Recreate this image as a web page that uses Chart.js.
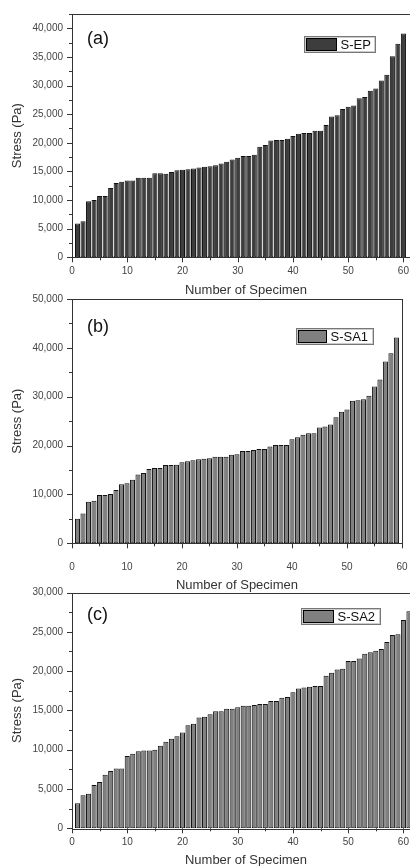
<!DOCTYPE html>
<html>
<head>
<meta charset="utf-8">
<script src="https://cdn.jsdelivr.net/npm/chart.js@4.4.0/dist/chart.umd.min.js"></script>
<style>
  html, body { margin: 0; padding: 0; background: #fff; overflow: hidden; }
  body { width: 410px; height: 866px; position: relative; }
  canvas { position: absolute; left: 0; display: block; }
</style>
</head>
<body>
<canvas id="chartA" width="420" height="310" style="top:0px"></canvas>
<canvas id="chartB" width="420" height="320" style="top:285px"></canvas>
<canvas id="chartC" width="420" height="305" style="top:575px"></canvas>
<script>
// specimen numbers (x categories)
const specimenNo = [1, 2, 3, 4, 5, 6, 7, 8, 9, 10, 11, 12, 13, 14, 15, 16, 17, 18, 19, 20,
  21, 22, 23, 24, 25, 26, 27, 28, 29, 30, 31, 32, 33, 34, 35, 36, 37, 38, 39, 40,
  41, 42, 43, 44, 45, 46, 47, 48, 49, 50, 51, 52, 53, 54, 55, 56, 57, 58, 59, 60, 61];

// stress values (Pa)
const stressEP = [5900, 6300, 9800, 10000, 10700, 10700, 12100, 13000, 13200, 13400,
  13400, 13900, 13900, 13900, 14700, 14700, 14600, 14900, 15200, 15300,
  15400, 15500, 15700, 15800, 15900, 16100, 16400, 16700, 17100, 17400,
  17700, 17700, 17900, 19300, 19600, 20400, 20500, 20500, 20700, 21200,
  21600, 21700, 21700, 22100, 22100, 23100, 24600, 24800, 25900, 26300,
  26500, 27800, 28000, 29100, 29500, 30900, 31900, 35100, 37300, 39100];
const stressSA1 = [5000, 6100, 8500, 8700, 9900, 9900, 10100, 10900, 12100, 12300,
  13000, 14100, 14400, 15200, 15400, 15400, 16000, 16000, 16100, 16600,
  16800, 17000, 17200, 17300, 17400, 17700, 17700, 17700, 18100, 18200,
  18900, 18900, 19100, 19300, 19300, 19800, 20100, 20100, 20100, 21300,
  21700, 22200, 22500, 22500, 23700, 23900, 24300, 25800, 26900, 27400,
  29200, 29300, 29500, 30200, 32100, 33500, 37200, 38900, 42100];
const stressSA2 = [3200, 4200, 4400, 5500, 5900, 6800, 7300, 7600, 7600, 9200,
  9500, 9800, 9900, 9900, 10000, 10500, 11000, 11400, 11700, 12200,
  13100, 13300, 14100, 14200, 14500, 14900, 14900, 15200, 15200, 15400,
  15600, 15600, 15700, 15800, 15800, 16200, 16200, 16600, 16700, 17300,
  17800, 17900, 18000, 18100, 18100, 19400, 19800, 20200, 20300, 21300,
  21300, 21600, 22200, 22400, 22600, 22800, 23700, 24600, 24700, 26500, 27600];

// tick labels
const xTicks = [0, 10, 20, 30, 40, 50, 60];
const yTicksEP = [0, 5000, 10000, 15000, 20000, 25000, 30000, 35000, 40000];
const yTicksSA1 = [0, 10000, 20000, 30000, 40000, 50000];
const yTicksSA2 = [0, 5000, 10000, 15000, 20000, 25000, 30000];

Chart.defaults.font.family = '"Liberation Sans", Arial, sans-serif';

// frame, outward ticks (long major / short minor), panel letter, legend box
const panelDecor = {
  id: 'panelDecor',
  afterDraw(chart, args, opts) {
    const { ctx, chartArea: a, scales: { x, y } } = chart;
    ctx.save();
    ctx.strokeStyle = '#333';
    ctx.lineWidth = 1;
    ctx.strokeRect(Math.round(a.left) + 0.5, Math.round(a.top) + 0.5,
      Math.round(a.right - a.left), Math.round(a.bottom - a.top));
    ctx.beginPath();
    y.ticks.forEach(t => {
      const py = Math.round(y.getPixelForValue(t.value)) + 0.5;
      const len = t.label !== '' ? 5 : 3;
      ctx.moveTo(a.left, py);
      ctx.lineTo(a.left - len, py);
    });
    x.ticks.forEach(t => {
      const px = Math.round(x.getPixelForValue(t.value)) + 0.5;
      const len = t.label !== '' ? 5 : 3;
      ctx.moveTo(px, a.bottom);
      ctx.lineTo(px, a.bottom + len);
    });
    ctx.stroke();

    // panel letter
    ctx.fillStyle = '#111';
    ctx.font = '18px "Liberation Sans", Arial, sans-serif';
    ctx.textBaseline = 'alphabetic';
    ctx.textAlign = 'left';
    ctx.fillText(opts.letter, a.left + 15, a.top + opts.letterDy);

    // legend
    const ds = chart.data.datasets[0];
    ctx.font = '13px "Liberation Sans", Arial, sans-serif';
    const tw = ctx.measureText(ds.label).width;
    const bx = Math.round(a.left + opts.legendDx) + 0.5;
    const by = Math.round(a.top + opts.legendDy) + 0.5;
    const bw = Math.round(3 + opts.swatchW + 3 + tw + 5);
    const bh = 16;
    ctx.fillStyle = '#fff';
    ctx.fillRect(bx, by, bw, bh);
    ctx.strokeStyle = '#777';
    ctx.strokeRect(bx, by, bw, bh);
    ctx.strokeStyle = '#ccc';
    ctx.strokeRect(bx + 1, by + 1, bw - 2, bh - 2);
    ctx.fillStyle = ds.backgroundColor;
    ctx.fillRect(bx + 2, by + 2, opts.swatchW, bh - 4);
    ctx.strokeStyle = '#000';
    ctx.strokeRect(bx + 2, by + 2, opts.swatchW, bh - 4);
    ctx.fillStyle = '#111';
    ctx.textBaseline = 'middle';
    ctx.fillText(ds.label, bx + 3 + opts.swatchW + 3, by + bh / 2 + 0.5);
    ctx.restore();
  }
};

function makePanel(id, label, values, color, yMax, yStep, yMajors, xMax, box) {
  const canvas = document.getElementById(id);
  return new Chart(canvas, {
    type: 'bar',
    data: {
      datasets: [{
        label: label,
        data: values.map((v, i) => ({ x: specimenNo[i], y: v })),
        backgroundColor: color,
        borderColor: '#111',
        borderWidth: 1,
        borderSkipped: false,
        categoryPercentage: 1,
        barPercentage: 0.92
      }]
    },
    options: {
      responsive: false,
      animation: false,
      layout: { padding: { top: box.areaTop, right: box.padRight, left: 0, bottom: 0 } },
      plugins: {
        legend: { display: false },
        tooltip: { enabled: false },
        panelDecor: box
      },
      scales: {
        x: {
          type: 'linear',
          min: 0,
          max: xMax,
          offset: false,
          grid: { display: false, offset: false, drawTicks: true, tickLength: 5 },
          border: { display: false },
          ticks: {
            stepSize: 5,
            includeBounds: false,
            maxRotation: 0,
            autoSkip: false,
            padding: box.xPad,
            color: '#444',
            font: { size: 10 },
            callback: v => (xTicks.includes(v) ? String(v) : '')
          },
          afterBuildTicks: s => { s.ticks = s.ticks.filter(t => t.value % 5 === 0); },
          afterFit: s => { s.height = box.xAxisH; },
          title: {
            display: true,
            text: 'Number of Specimen',
            color: '#333',
            font: { size: 13 },
            padding: { top: 0, bottom: 12.2 }
          }
        },
        y: {
          min: 0,
          max: yMax,
          grid: { display: false, drawTicks: true, tickLength: 5 },
          border: { display: false },
          ticks: {
            stepSize: yStep,
            includeBounds: false,
            autoSkip: false,
            padding: 4,
            color: '#444',
            font: { size: 10 },
            callback: v => (yMajors.includes(v) ? v.toLocaleString('en-US') : '')
          },
          afterBuildTicks: s => { s.ticks = s.ticks.filter(t => t.value % yStep === 0); },
          afterFit: s => { s.width = 72; },
          title: {
            display: true,
            text: 'Stress (Pa)',
            color: '#333',
            font: { size: 13 },
            padding: { top: 9.5, bottom: 0 }
          }
        }
      }
    },
    plugins: [panelDecor]
  });
}

makePanel('chartA', 'S-EP', stressEP, '#3d3d3d', 42500, 2500, yTicksEP, 63,
  { areaTop: 14, xAxisH: 310 - 257.3, padRight: 0, xPad: 3,
    letter: '(a)', letterDy: 29.5, legendDx: 232, legendDy: 22, swatchW: 30 });
makePanel('chartB', 'S-SA1', stressSA1, '#808080', 50000, 5000, yTicksSA1, 60,
  { areaTop: 14, xAxisH: 320 - 258.3, padRight: 14.5, xPad: 12.5,
    letter: '(b)', letterDy: 32.5, legendDx: 224, legendDy: 29, swatchW: 28 });
makePanel('chartC', 'S-SA2', stressSA2, '#808080', 30000, 2500, yTicksSA2, 63,
  { areaTop: 17.5, xAxisH: 305 - 253.3, padRight: 0, xPad: 3,
    letter: '(c)', letterDy: 27.5, legendDx: 229, legendDy: 15.5, swatchW: 30 });
</script>
</body>
</html>
